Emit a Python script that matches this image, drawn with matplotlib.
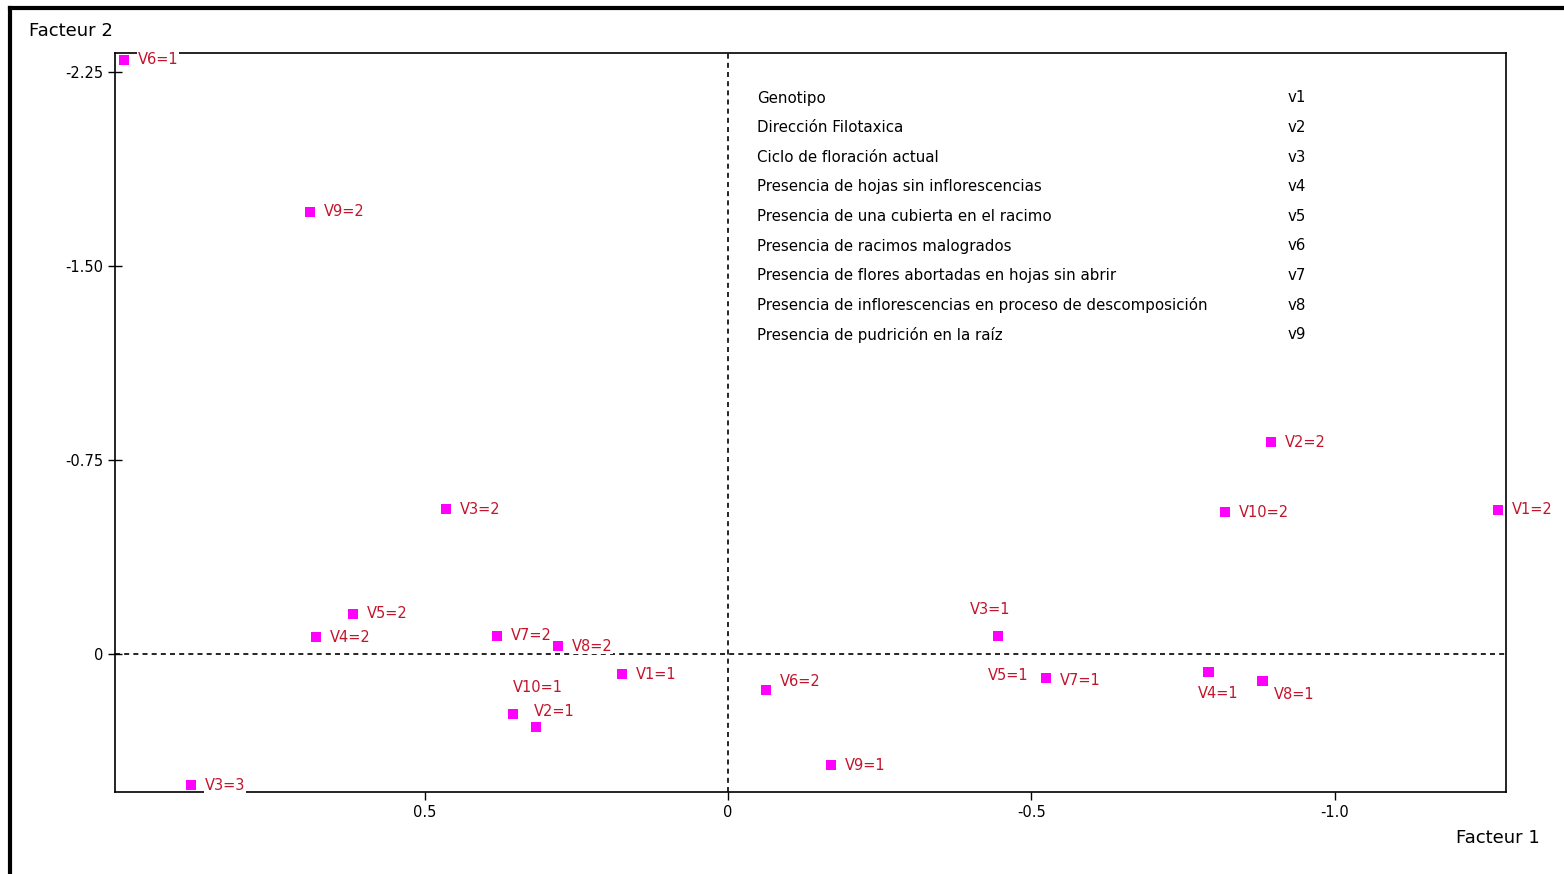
import matplotlib
matplotlib.use('Agg')
import matplotlib.pyplot as plt
from matplotlib.lines import Line2D

# modalites (coordonnees sur facteur 1 et facteur 2)
labels = ['V6=1', 'V9=2', 'V3=2', 'V5=2', 'V4=2', 'V7=2', 'V8=2', 'V1=1', 'V10=1', 'V2=1',
          'V3=3', 'V6=2', 'V9=1', 'V3=1', 'V5=1', 'V4=1', 'V8=1', 'V2=2', 'V10=2', 'V1=2']
f1 = [0.995, 0.689, 0.465, 0.618, 0.679, 0.381, 0.280, 0.175, 0.354, 0.316,
      0.885, -0.063, -0.170, -0.445, -0.524, -0.792, -0.881, -0.895, -0.819, -1.269]
f2 = [-2.296, -1.709, -0.560, -0.155, -0.066, -0.070, -0.031, 0.077, 0.232, 0.282,
      0.506, 0.139, 0.429, -0.070, 0.093, 0.070, 0.104, -0.819, -0.549, -0.557]
# le point V5=1 porte aussi l'etiquette V7=1 (a droite)
extra_label = 'V7=1'

variables = ['Genotipo', 'Dirección Filotaxica', 'Ciclo de floración actual',
             'Presencia de hojas sin inflorescencias', 'Presencia de una cubierta en el racimo',
             'Presencia de racimos malogrados', 'Presencia de flores abortadas en hojas sin abrir',
             'Presencia de inflorescencias en proceso de descomposición',
             'Presencia de pudrición en la raíz']
codes = ['v1', 'v2', 'v3', 'v4', 'v5', 'v6', 'v7', 'v8', 'v9']

xticks = [0.5, 0, -0.5, -1.0]
xtick_labels = ['0.5', '0', '-0.5', '-1.0']
yticks = [-2.25, -1.50, -0.75, 0]
ytick_labels = ['-2.25', '-1.50', '-0.75', '0']

# decalage des etiquettes (points) : (dx, dy, ha, va)
offsets = {'V10=1': (0, 14, 'left', 'bottom'), 'V3=1': (-20, 14, 'left', 'bottom'),
           'V5=1': (-42, 2, 'left', 'center'), 'V4=1': (-8, -10, 'left', 'top'),
           'V8=1': (8, -4, 'left', 'top'), 'V2=1': (-2, 6, 'left', 'bottom'),
           'V6=2': (10, 6, 'left', 'center')}

txt_col = '#c4142c'
plt.rcParams['font.family'] = ['DejaVu Sans']

fig = plt.figure(figsize=(15.64, 8.74), dpi=100)
ax = fig.add_axes([115/1564, 1-792/874, (1506-115)/1564, (792-53)/874])
ax.set_xlim(1.01, -1.282)
ax.set_ylim(0.533, -2.323)

ax.axhline(0, color='black', lw=1.2, ls=(0, (3, 2.5)), zorder=1)
ax.axvline(0, color='black', lw=1.2, ls=(0, (3, 2.5)), zorder=1)

ax.scatter(f1, f2, marker='s', s=55, color='#ff00ff', zorder=3, edgecolors='none')
for lab, x, y in zip(labels, f1, f2):
    dx, dy, ha, va = offsets.get(lab, (10, 0, 'left', 'center'))
    ax.annotate(lab, (x, y), xytext=(dx, dy), textcoords='offset points',
                ha=ha, va=va, fontsize=10.5, color=txt_col, zorder=4, annotation_clip=False,
                bbox=dict(boxstyle='square,pad=0.05', fc='white', ec='none'))
    if lab == 'V5=1':
        ax.annotate(extra_label, (x, y), xytext=(10, -2), textcoords='offset points',
                    ha='left', va='center', fontsize=10.5, color=txt_col, zorder=4)

ax.set_xticks(xticks)
ax.set_xticklabels(xtick_labels)
ax.set_yticks(yticks)
ax.set_yticklabels(ytick_labels)
ax.tick_params(axis='both', labelsize=10.5, direction='out', length=6, width=1)
ax.tick_params(axis='y', direction='inout', length=10)
for s in ax.spines.values():
    s.set_linewidth(1.2)

for i, (v, c) in enumerate(zip(variables, codes)):
    ypx = 98 + i * 29.6
    fig.text(757/1564, 1-ypx/874, v, fontsize=10.8, va='center', ha='left')
    fig.text(1288/1564, 1-ypx/874, c, fontsize=10.8, va='center', ha='left')

fig.text(29/1564, 1-31/874, 'Facteur 2', fontsize=13, va='center', ha='left')
fig.text(1540/1564, 1-838/874, 'Facteur 1', fontsize=13, va='center', ha='right')

# cadre exterieur
fig.add_artist(Line2D([10/1564, 1], [1-8/874, 1-8/874], transform=fig.transFigure, color='black', lw=3))
fig.add_artist(Line2D([10/1564, 10/1564], [0, 1-8/874], transform=fig.transFigure, color='black', lw=3))

fig.savefig('out.png', dpi=100)
